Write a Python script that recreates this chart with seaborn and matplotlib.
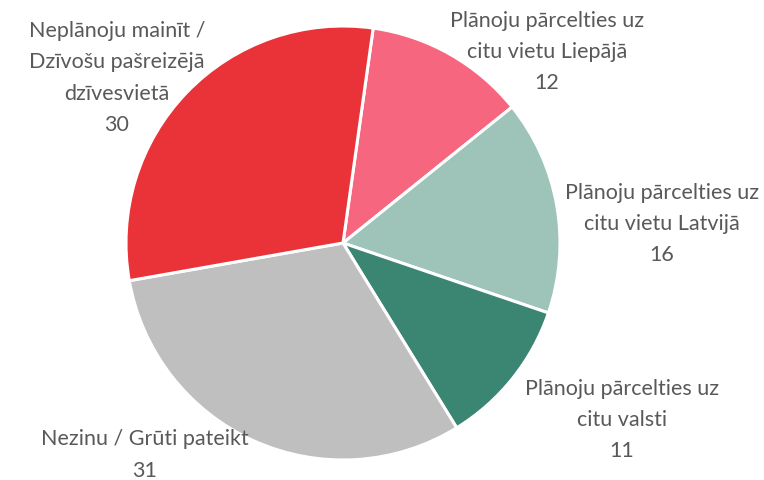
import matplotlib
matplotlib.use("Agg")
import matplotlib.pyplot as plt
import seaborn as sns

categories = [
    "Plānoju pārcelties uz\ncitu vietu Liepājā",
    "Plānoju pārcelties uz\ncitu vietu Latvijā",
    "Plānoju pārcelties uz\ncitu valsti",
    "Nezinu / Grūti pateikt",
    "Neplānoju mainīt /\nDzīvošu pašreizējā\ndzīvesvietā",
]
values = [12, 16, 11, 31, 30]
colors = ["#F7667F", "#9EC4B9", "#3A8672", "#BFBFBF", "#EA3239"]

# label centres in pixel coordinates of the figure (layout only)
label_px = [(547, 52), (662, 224), (622, 420), (145, 455), (117, 78)]

sns.set_theme(style="white")
plt.rcParams['font.family'] = ['Lato', 'DejaVu Sans']

W, H = 764, 480
fig = plt.figure(figsize=(W / 100, H / 100), dpi=100)
cx, cy, r = 343, 243, 217
ax = fig.add_axes([(cx - r) / W, (H - cy - r) / H, 2 * r / W, 2 * r / H])
ax.pie(values, colors=colors, startangle=82, counterclock=False,
       wedgeprops=dict(edgecolor="white", linewidth=2.2), radius=1.0)
ax.set_xlim(-1, 1)
ax.set_ylim(-1, 1)
ax.set_aspect("auto")
ax.axis("off")

for cat, val, (px, py) in zip(categories, values, label_px):
    fig.text(px / W, 1 - py / H, f"{cat}\n{val}", ha="center", va="center",
             fontsize=15.5, color="#595959", linespacing=1.7)

fig.savefig("out.png", dpi=100)
